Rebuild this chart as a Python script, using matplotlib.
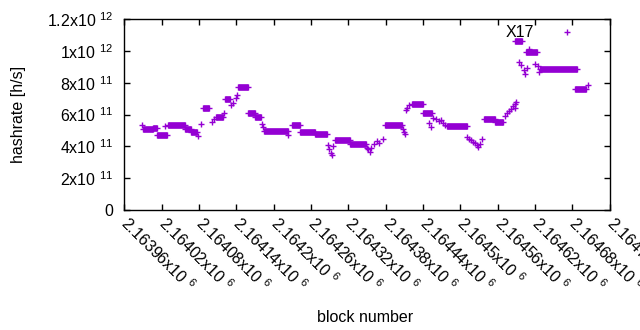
import matplotlib
matplotlib.use('Agg')
import matplotlib.pyplot as plt

plt.rcParams['font.family'] = ['Liberation Sans', 'DejaVu Sans']
plt.rcParams['mathtext.fontset'] = 'custom'
plt.rcParams['mathtext.rm'] = 'Liberation Sans'
plt.rcParams['mathtext.it'] = 'Liberation Sans:italic'

color = '#9400D3'
fs = 11.5

# runs of blocks with same hashrate
run_start = [2163990, 2164006, 2164013, 2164030, 2164058, 2164067, 2164086, 2164107, 2164122, 2164143,
             2164159, 2164170, 2164184, 2164230, 2164242, 2164266, 2164299, 2164323, 2164379, 2164422,
             2164440, 2164479, 2164538, 2164556, 2164588, 2164605, 2164628, 2164685]
run_end = [2164006, 2164013, 2164029, 2164058, 2164067, 2164077, 2164096, 2164119, 2164130, 2164159,
           2164170, 2164180, 2164223, 2164242, 2164266, 2164286, 2164323, 2164348, 2164407, 2164440,
           2164455, 2164511, 2164556, 2164569, 2164599, 2164623, 2164687, 2164702]
run_value = [5.06e11, 5.15e11, 4.74e11, 5.37e11, 5.12e11, 4.93e11, 6.38e11, 5.87e11, 7.0e11, 7.7e11,
             6.1e11, 5.84e11, 4.96e11, 5.37e11, 4.9e11, 4.77e11, 4.37e11, 4.15e11, 5.34e11, 6.66e11,
             6.1e11, 5.28e11, 5.69e11, 5.56e11, 1.059e12, 9.9e11, 8.89e11, 7.63e11]

# single blocks
block = [2163988, 2164025, 2164078, 2164083, 2164101, 2164104, 2164120, 2164131, 2164134, 2164140,
         2164141, 2164181, 2164183, 2164223, 2164287, 2164289, 2164292, 2164294, 2164295, 2164350,
         2164352, 2164355, 2164357, 2164361, 2164366, 2164370, 2164375, 2164408, 2164410, 2164411,
         2164413, 2164414, 2164417, 2164450, 2164453, 2164456, 2164461, 2164466, 2164469, 2164472,
         2164475, 2164511, 2164514, 2164517, 2164520, 2164524, 2164527, 2164529, 2164532, 2164535,
         2164572, 2164575, 2164578, 2164582, 2164585, 2164587, 2164588, 2164590, 2164594, 2164597,
         2164602, 2164604, 2164607, 2164610, 2164620, 2164625, 2164626, 2164672, 2164705]
hashrate = [5.34e11, 5.28e11, 4.65e11, 5.40e11, 5.53e11, 5.72e11, 6.10e11, 6.60e11, 6.72e11, 7.04e11,
            7.23e11, 5.40e11, 5.21e11, 4.71e11, 4.08e11, 3.83e11, 3.58e11, 3.46e11, 4.02e11, 3.90e11,
            3.83e11, 3.64e11, 3.90e11, 4.15e11, 4.34e11, 4.20e11, 4.46e11, 5.09e11, 4.90e11, 4.77e11,
            6.28e11, 6.41e11, 6.60e11, 5.47e11, 5.21e11, 5.78e11, 5.72e11, 5.59e11, 5.65e11, 5.47e11,
            5.34e11, 4.59e11, 4.46e11, 4.40e11, 4.27e11, 4.20e11, 4.08e11, 3.96e11, 4.15e11, 4.46e11,
            5.90e11, 6.10e11, 6.22e11, 6.35e11, 6.53e11, 6.41e11, 6.66e11, 6.79e11, 9.30e11, 9.11e11,
            8.80e11, 8.55e11, 8.92e11, 1.01e12, 9.17e11, 9.05e11, 8.67e11, 1.118e12, 7.85e11]

xticks = [2163960 + 60 * i for i in range(14)]
yticks = [0, 2e11, 4e11, 6e11, 8e11, 1e12, 1.2e12]
ylabels = ['0', r'2x10 $^{11}$', r'4x10 $^{11}$', r'6x10 $^{11}$', r'8x10 $^{11}$', r'1x10 $^{12}$', r'1.2x10 $^{12}$']

fig = plt.figure(figsize=(6.4, 3.3), dpi=100)
ax = fig.add_axes([0.1942, 0.3636, 0.7585, 0.5788])

for s, e, v in zip(run_start, run_end, run_value):
    ax.plot([s, e], [v, v], color=color, lw=4.8, solid_capstyle='butt')
    ax.plot([s, e], [v, v], '+', color=color, ms=5, mew=1)
ax.plot(block, hashrate, '+', color=color, ms=5, mew=1, ls='none')

ax.text(2164595, 1.118e12, 'X17', ha='center', va='center', fontsize=fs)

ax.set_xlim(2163960, 2164740)
ax.set_ylim(0, 1.2e12)
ax.set_xticks(xticks)
ax.set_xticklabels(['%gx10 $^{6}$' % (t / 1e6) for t in xticks], rotation=-45,
                   ha='left', va='center', rotation_mode='anchor', fontsize=fs)
ax.set_yticks(yticks)
ax.set_yticklabels(ylabels, fontsize=fs)
ax.tick_params(direction='in', top=True, right=True, length=4, width=1)
ax.tick_params(axis='y', pad=8)
ax.tick_params(axis='x', pad=7)
for sp in ax.spines.values():
    sp.set_linewidth(1)

ax.set_ylabel('hashrate [h/s]', fontsize=fs)
ax.set_xlabel('block number', fontsize=fs)
ax.yaxis.set_label_coords(-0.202, 0.5)
ax.xaxis.set_label_coords(0.495, -0.526)

fig.savefig('out.png', dpi=100)
